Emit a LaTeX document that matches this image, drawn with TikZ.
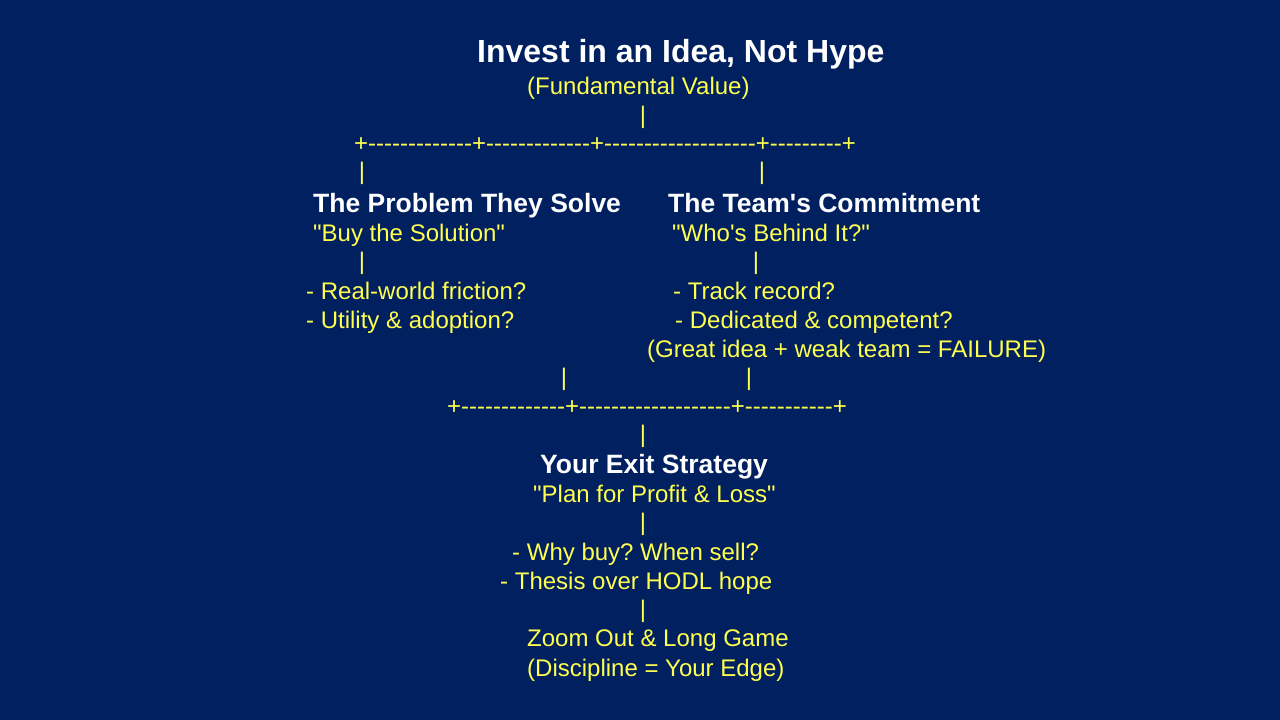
\documentclass[tikz,border=0pt]{standalone}
\usepackage{fontspec}
\setmainfont{Liberation Sans}[Ligatures=TeXOff]
\frenchspacing
\definecolor{navy}{HTML}{002060}
\definecolor{ylw}{RGB}{255,255,80}

\begin{document}
\begin{tikzpicture}[x=1pt,y=-1pt,
    title/.style={anchor=base west,inner sep=0pt,text=white,font=\bfseries\fontsize{32}{36}\selectfont},
    head/.style={anchor=base west,inner sep=0pt,text=white,font=\bfseries\fontsize{26.5}{30}\selectfont},
    txt/.style={anchor=base west,inner sep=0pt,text=ylw,font=\fontsize{24}{28}\selectfont},
    bar/.style={txt,anchor=base}]
    \fill[navy] (0,0) rectangle (1280,720);
    \useasboundingbox (0,0) rectangle (1280,720);

    \node[title] (idea) at (477,62) {Invest in an Idea, Not Hype};
    \node[txt] (value) at (527,94) {(Fundamental Value)};
    \node[bar] (b1) at (643,123) {|};
    \node[txt] (split) at (354,151) {+-------------+-------------+-------------------+---------+};
    \node[bar] (b2) at (362,179) {|};
    \node[bar] (b3) at (762,179) {|};

    \node[head] (problem) at (313,212) {The Problem They Solve};
    \node[head] (team) at (668,212) {The Team's Commitment};
    \node[txt] (solution) at (313,241) {"Buy the Solution"};
    \node[txt] (behind) at (672,241) {"Who's Behind It?"};
    \node[bar] (b4) at (362,269) {|};
    \node[bar] (b5) at (756,269) {|};
    \node[txt] (friction) at (306,299) {- Real-world friction?};
    \node[txt] (utility) at (306,328) {- Utility \& adoption?};
    \node[txt] (record) at (673,299) {- Track record?};
    \node[txt] (dedicated) at (675,328) {- Dedicated \& competent?};
    \node[txt] (failure) at (647,357) {(Great idea + weak team = FAILURE)};
    \node[bar] (b6) at (564,385) {|};
    \node[bar] (b7) at (749,385) {|};
    \node[txt] (join) at (447,414) {+-------------+-------------------+-----------+};
    \node[bar] (b8) at (643,442) {|};

    \node[head] (exit) at (540,473) {Your Exit Strategy};
    \node[txt] (plan) at (533,502) {"Plan for Profit \& Loss"};
    \node[bar] (b9) at (643,530) {|};
    \node[txt] (why) at (512,560) {- Why buy? When sell?};
    \node[txt] (thesis) at (500,589) {- Thesis over HODL hope};
    \node[bar] (b10) at (643,617) {|};
    \node[txt] (zoom) at (527,646) {Zoom Out \& Long Game};
    \node[txt] (edge) at (527,676) {(Discipline = Your Edge)};
\end{tikzpicture}
\end{document}
